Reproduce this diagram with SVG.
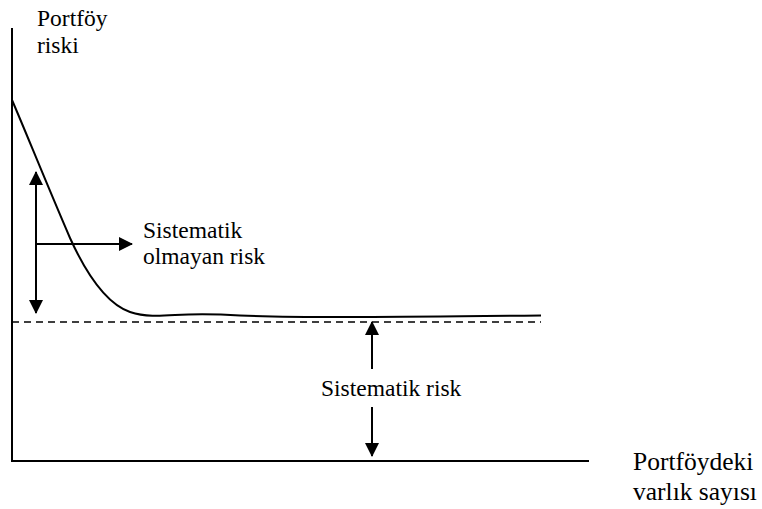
<svg xmlns="http://www.w3.org/2000/svg" width="762" height="509" viewBox="0 0 762 509">
<style>
text{font-family:"Liberation Serif","Times New Roman",serif;font-size:23.5px;fill:#000}
.big{font-size:25.5px}
.ln{stroke:#000;stroke-width:2;fill:none}
</style>
<defs>
<marker id="ah" markerWidth="14" markerHeight="14" refX="13" refY="7" orient="auto" markerUnits="userSpaceOnUse">
<path d="M0,0 L14,7 L0,14 Z" fill="#000"/>
</marker>
</defs>
<rect width="762" height="509" fill="#fff"/>
<g id="axes">
<line class="ln" x1="12" y1="28" x2="12" y2="461"/>
<line class="ln" x1="11" y1="461" x2="589" y2="461"/>
</g>
<g id="curve">
<path class="ln" d="M12,100 C25,130 45,180 70,238 C90,282 110,305 130,312 C145,317 160,316 175,315 C195,314 215,314 240,315.5 C300,318 400,317 541,315.5"/>
<line x1="12" y1="322" x2="541" y2="322" stroke="#000" stroke-width="1.5" stroke-dasharray="7,5"/>
</g>
<g id="connectors">
<line class="ln" x1="36" y1="244" x2="36" y2="172" marker-end="url(#ah)"/>
<line class="ln" x1="36" y1="244" x2="36" y2="313" marker-end="url(#ah)"/>
<line class="ln" x1="36" y1="244" x2="132" y2="244" marker-end="url(#ah)"/>
<line class="ln" x1="372" y1="369" x2="372" y2="322" marker-end="url(#ah)"/>
<line class="ln" x1="372" y1="407" x2="372" y2="456" marker-end="url(#ah)"/>
</g>
<g id="label-y">
<text x="37" y="26">Portföy</text>
<text x="37" y="53">riski</text>
</g>
<g id="label-nonsys">
<text x="143" y="238">Sistematik</text>
<text x="143" y="264">olmayan risk</text>
</g>
<g id="label-sys">
<text x="321" y="396">Sistematik risk</text>
</g>
<g id="label-x">
<text class="big" x="633" y="470">Portföydeki</text>
<text class="big" x="633" y="500">varlık sayısı</text>
</g>
</svg>
